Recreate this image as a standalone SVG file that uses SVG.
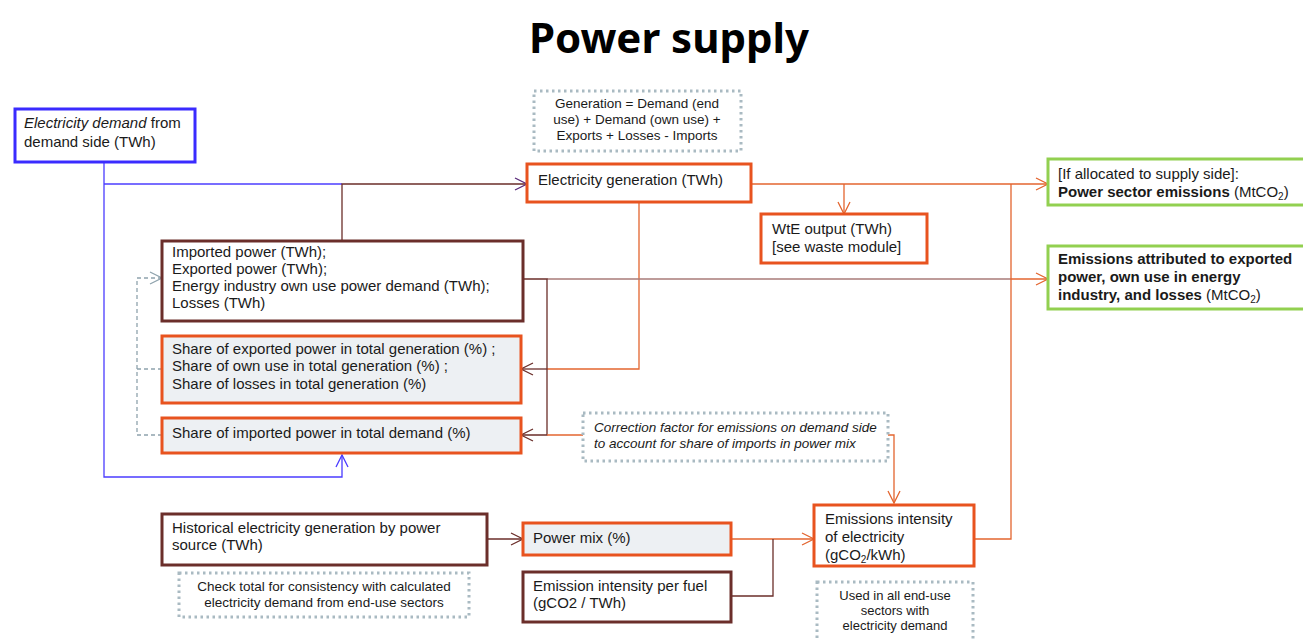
<svg xmlns="http://www.w3.org/2000/svg" width="1303" height="639" viewBox="0 0 1303 639">
<style>
text{font-family:"Liberation Sans",Arial,sans-serif;font-size:15px;fill:#1a1a1a}
.t{font-family:"Noto Sans","Open Sans",sans-serif;font-size:42px;font-weight:bold;fill:#000}
.s{font-size:13.5px}
.u{font-size:13px}
.b{font-weight:bold}
.i{font-style:italic}
.box{fill:#fff;stroke-width:3}
.or{stroke:#e8531f}
.br{stroke:#6b2e2a}
.bl{stroke:#3a2bff}
.gr{stroke:#92d050}
.fill{fill:#edf0f3}
.dot{fill:#fff;stroke:#a9bac2;stroke-width:3;stroke-dasharray:2.5,3.5}
.c{fill:none;stroke-width:1.3}
.lo{stroke:#e3652f}
.lb{stroke:#6b2e2a}
.lu{stroke:#4b3cff}
.lm{stroke:#a87b78}
.lg{stroke:#8fa3ad;stroke-dasharray:4,3}
</style>
<defs>
<marker id="ao" markerUnits="userSpaceOnUse" markerWidth="16" markerHeight="16" refX="13" refY="7" orient="auto"><path d="M1,1 L13,7 L1,13" fill="none" stroke="#e3652f" stroke-width="1.3"/></marker>
<marker id="ab" markerUnits="userSpaceOnUse" markerWidth="16" markerHeight="16" refX="13" refY="7" orient="auto"><path d="M1,1 L13,7 L1,13" fill="none" stroke="#6b2e2a" stroke-width="1.3"/></marker>
<marker id="au" markerUnits="userSpaceOnUse" markerWidth="16" markerHeight="16" refX="13" refY="7" orient="auto"><path d="M1,1 L13,7 L1,13" fill="none" stroke="#4b3cff" stroke-width="1.3"/></marker>
<marker id="ap" markerUnits="userSpaceOnUse" markerWidth="16" markerHeight="16" refX="13" refY="7" orient="auto"><path d="M1,1 L13,7 L1,13" fill="none" stroke="#5a2a7a" stroke-width="1.3"/></marker>
<marker id="ag" markerUnits="userSpaceOnUse" markerWidth="16" markerHeight="16" refX="13" refY="7" orient="auto"><path d="M1,1 L13,7 L1,13" fill="none" stroke="#8fa3ad" stroke-width="1.3"/></marker>
</defs>
<rect width="1303" height="639" fill="#fff"/>
<text class="t" x="669" y="53" text-anchor="middle">Power supply</text>

<g id="connectors">
<path class="c lu" d="M104,163 V477 H342 V455" marker-end="url(#au)"/>
<path class="c lu" d="M104,184 H342"/>
<path class="c lb" d="M342,241 V184 H527" marker-end="url(#ap)"/>
<path class="c lo" d="M751,184 H1048" marker-end="url(#ao)"/>
<path class="c lo" d="M844,184 V214" marker-end="url(#ao)"/>
<path class="c lo" d="M639,202 V369 H547"/>
<path class="c lm" d="M547,279 H1011"/>
<path class="c lo" d="M1011,279 H1048" marker-end="url(#ao)"/>
<path class="c lb" d="M523,279 H547 V435 H521" marker-end="url(#ab)"/>
<path class="c lb" d="M547,369 H521" marker-end="url(#ab)"/>
<path class="c lo" d="M583,435 H547"/>
<path class="c lo" d="M888,435 H894 V503" marker-end="url(#ao)"/>
<path class="c lo" d="M974,539 H1011 V184"/>
<path class="c lo" d="M731,539 H814" marker-end="url(#ao)"/>
<path class="c lb" d="M731,596 H773 V539"/>
<path class="c lb" d="M487,539 H523" marker-end="url(#ab)"/>
<path class="c lg" d="M162,435 H137 V278 H162" marker-end="url(#ag)"/>
<path class="c lg" d="M162,369 H137"/>
</g>

<g id="demand">
<rect class="box bl" x="15" y="109" width="180" height="53"/>
<text x="24" y="128"><tspan class="i">Electricity demand</tspan> from</text>
<text x="24" y="147">demand side (TWh)</text>
</g>

<g id="note-generation">
<rect class="dot" x="534" y="91" width="207" height="60"/>
<text class="s" x="637" y="108" text-anchor="middle">Generation = Demand (end</text>
<text class="s" x="637" y="124" text-anchor="middle">use) + Demand (own use) +</text>
<text class="s" x="637" y="140" text-anchor="middle">Exports + Losses - Imports</text>
</g>

<g id="generation">
<rect class="box or" x="527" y="164" width="224" height="38"/>
<text x="538" y="185">Electricity generation (TWh)</text>
</g>

<g id="wte">
<rect class="box or" x="761" y="214" width="166" height="49"/>
<text x="772" y="234">WtE output (TWh)</text>
<text x="772" y="252">[see waste module]</text>
</g>

<g id="power-sector-emissions">
<rect class="box gr" x="1048" y="159" width="260" height="46"/>
<text x="1058" y="179">[If allocated to supply side]:</text>
<text x="1058" y="197"><tspan class="b">Power sector emissions</tspan> (MtCO<tspan font-size="10" dy="3">2</tspan><tspan dy="-3">)</tspan></text>
</g>

<g id="attributed-emissions">
<rect class="box gr" x="1048" y="246" width="260" height="63"/>
<text class="b" x="1058" y="264">Emissions attributed to exported</text>
<text class="b" x="1058" y="282">power, own use in energy</text>
<text x="1058" y="300"><tspan class="b">industry, and losses</tspan> (MtCO<tspan font-size="10" dy="3">2</tspan><tspan dy="-3">)</tspan></text>
</g>

<g id="imports-exports">
<rect class="box br" x="162" y="241" width="361" height="80"/>
<text x="172" y="257">Imported power (TWh);</text>
<text x="172" y="274">Exported power (TWh);</text>
<text x="172" y="291">Energy industry own use power demand (TWh);</text>
<text x="172" y="308">Losses (TWh)</text>
</g>

<g id="shares">
<rect class="box or fill" x="162" y="336" width="359" height="67"/>
<text x="172" y="354">Share of exported power in total generation (%) ;</text>
<text x="172" y="371">Share of own use in total generation (%) ;</text>
<text x="172" y="389">Share of losses in total generation (%)</text>
</g>

<g id="import-share">
<rect class="box or fill" x="162" y="418" width="359" height="35"/>
<text x="172" y="438">Share of imported power in total demand (%)</text>
</g>

<g id="note-correction">
<rect class="dot" x="583" y="413" width="305" height="48"/>
<text class="s i" x="594" y="432">Correction factor for emissions on demand side</text>
<text class="s i" x="594" y="448">to account for share of imports in power mix</text>
</g>

<g id="historical">
<rect class="box br" x="162" y="514" width="325" height="51"/>
<text x="172" y="533">Historical electricity generation by power</text>
<text x="172" y="550">source (TWh)</text>
</g>

<g id="note-check">
<rect class="dot" x="179" y="573" width="290" height="44"/>
<text class="s" x="324" y="591" text-anchor="middle">Check total for consistency with calculated</text>
<text class="s" x="324" y="607" text-anchor="middle">electricity demand from end-use sectors</text>
</g>

<g id="power-mix">
<rect class="box or fill" x="523" y="523" width="208" height="32"/>
<text x="533" y="543">Power mix (%)</text>
</g>

<g id="fuel-intensity">
<rect class="box br" x="523" y="572" width="208" height="50"/>
<text x="533" y="591">Emission intensity per fuel</text>
<text x="533" y="608">(gCO2 / TWh)</text>
</g>

<g id="electricity-intensity">
<rect class="box or" x="814" y="505" width="160" height="61"/>
<text x="825" y="524">Emissions intensity</text>
<text x="825" y="542">of electricity</text>
<text x="825" y="560">(gCO<tspan font-size="10" dy="3">2</tspan><tspan dy="-3">/kWh)</tspan></text>
</g>

<g id="note-used">
<rect class="dot" x="817" y="582" width="156" height="70"/>
<text class="u" x="895" y="600" text-anchor="middle">Used in all end-use</text>
<text class="u" x="895" y="615" text-anchor="middle">sectors with</text>
<text class="u" x="895" y="630" text-anchor="middle">electricity demand</text>
</g>
</svg>
